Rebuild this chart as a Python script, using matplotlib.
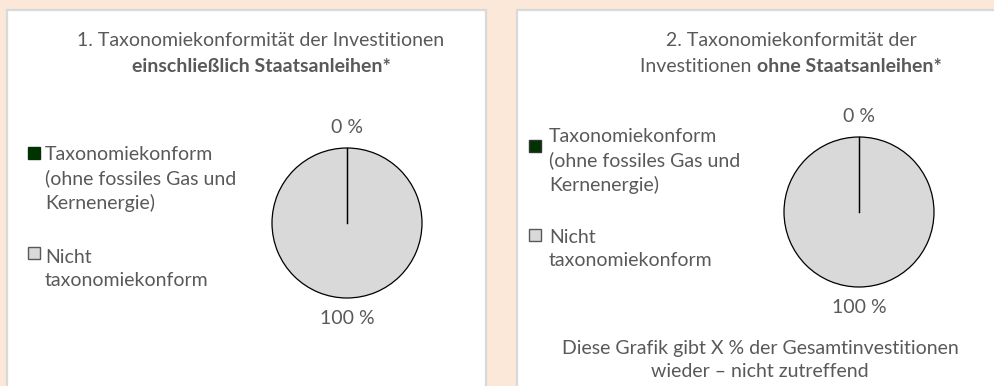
import matplotlib
matplotlib.use("Agg")
import numpy as np
import matplotlib.pyplot as plt
from matplotlib.patches import Rectangle

# --- data ---
categories = ["Taxonomiekonform\n(ohne fossiles Gas und\nKernenergie)", "Nicht\ntaxonomiekonform"]
incl_sov = [0, 100]   # chart 1: including sovereign bonds
excl_sov = [0, 100]   # chart 2: excluding sovereign bonds
slice_colors = ["#003300", "#D9D9D9"]

TEXT = "#595959"
BG = "#FBE8D8"
W, H = 995, 386

plt.rcParams["font.family"] = ["Lato", "DejaVu Sans"]

fig = plt.figure(figsize=(W / 100, H / 100), dpi=100, facecolor=BG)

# background layer in pixel coordinates (y down)
bg = fig.add_axes([0, 0, 1, 1])
bg.set_xlim(0, W)
bg.set_ylim(H, 0)
bg.axis("off")
for x0, x1 in [(7, 486), (517, 1010)]:
    bg.add_patch(Rectangle((x0, 10), x1 - x0, 400, facecolor="white",
                           edgecolor="#D9D9D9", linewidth=1.6))

FS = 14
LS = 1.45


def pie_at(values, cx, cy, r):
    ax = fig.add_axes([(cx - 1.5 * r) / W, 1 - (cy + 1.5 * r) / H, 3 * r / W, 3 * r / H])
    labels = [f"{v:.0f} %" for v in values]
    wedges, texts = ax.pie(values, colors=slice_colors, startangle=90, counterclock=False,
                           labels=labels, labeldistance=1.27,
                           wedgeprops=dict(edgecolor="black", linewidth=0.9),
                           textprops=dict(color=TEXT, fontsize=FS))
    for t in texts:
        t.set_ha("center")
        t.set_va("center")
    # slice boundaries (a 0 % slice leaves just its edge)
    for w in wedges:
        a = np.deg2rad(w.theta2)
        ax.plot([0, np.cos(a)], [0, np.sin(a)], color="black", lw=0.9)
    ax.set_xlim(-1.5, 1.5)
    ax.set_ylim(-1.5, 1.5)
    return ax


def legend_at(x_box, x_text, entries):
    # entries: (label, text_y, box_y, color, edge)
    for label, ty, by, col, edge in entries:
        bg.add_patch(Rectangle((x_box, by - 6), 12, 12, facecolor=col,
                               edgecolor=edge, linewidth=1.0))
        bg.text(x_text, ty, label, color=TEXT, fontsize=FS, va="top", ha="left",
                linespacing=LS)


def mixed_line(cx, y, parts):
    # centre a line made of regular and bold runs
    r = fig.canvas.get_renderer()
    texts = [bg.text(0, y, s, color=TEXT, fontsize=FS, fontweight=fw,
                     ha="left", va="center") for s, fw in parts]
    widths = [t.get_window_extent(r).width for t in texts]
    x = cx - sum(widths) / 2
    for t, w in zip(texts, widths):
        t.set_x(x)
        x += w


# chart 1
bg.text(261, 41, "1. Taxonomiekonformität der Investitionen", color=TEXT,
        fontsize=FS, ha="center", va="center")
bg.text(261, 67, "einschließlich Staatsanleihen*", color=TEXT, fontsize=FS,
        fontweight="bold", ha="center", va="center")
pie_at(incl_sov, 347, 223, 75)
legend_at(28, 45, [(categories[0], 146, 153, slice_colors[0], slice_colors[0]),
                   (categories[1], 249, 253, slice_colors[1], "#595959")])

# chart 2
bg.text(791, 41, "2. Taxonomiekonformität der", color=TEXT, fontsize=FS,
        ha="center", va="center")
mixed_line(791, 67, [("Investitionen ", "normal"), ("ohne Staatsanleihen*", "bold")])
pie_at(excl_sov, 859, 212, 75)
legend_at(529, 549, [(categories[0], 128, 146, slice_colors[0], "#333333"),
                     (categories[1], 229, 235, slice_colors[1], "#595959")])
bg.text(760, 360, "Diese Grafik gibt X % der Gesamtinvestitionen\nwieder – nicht zutreffend",
        color=TEXT, fontsize=FS, ha="center", va="center", linespacing=LS)

fig.savefig("out.png", dpi=100, facecolor=BG)
